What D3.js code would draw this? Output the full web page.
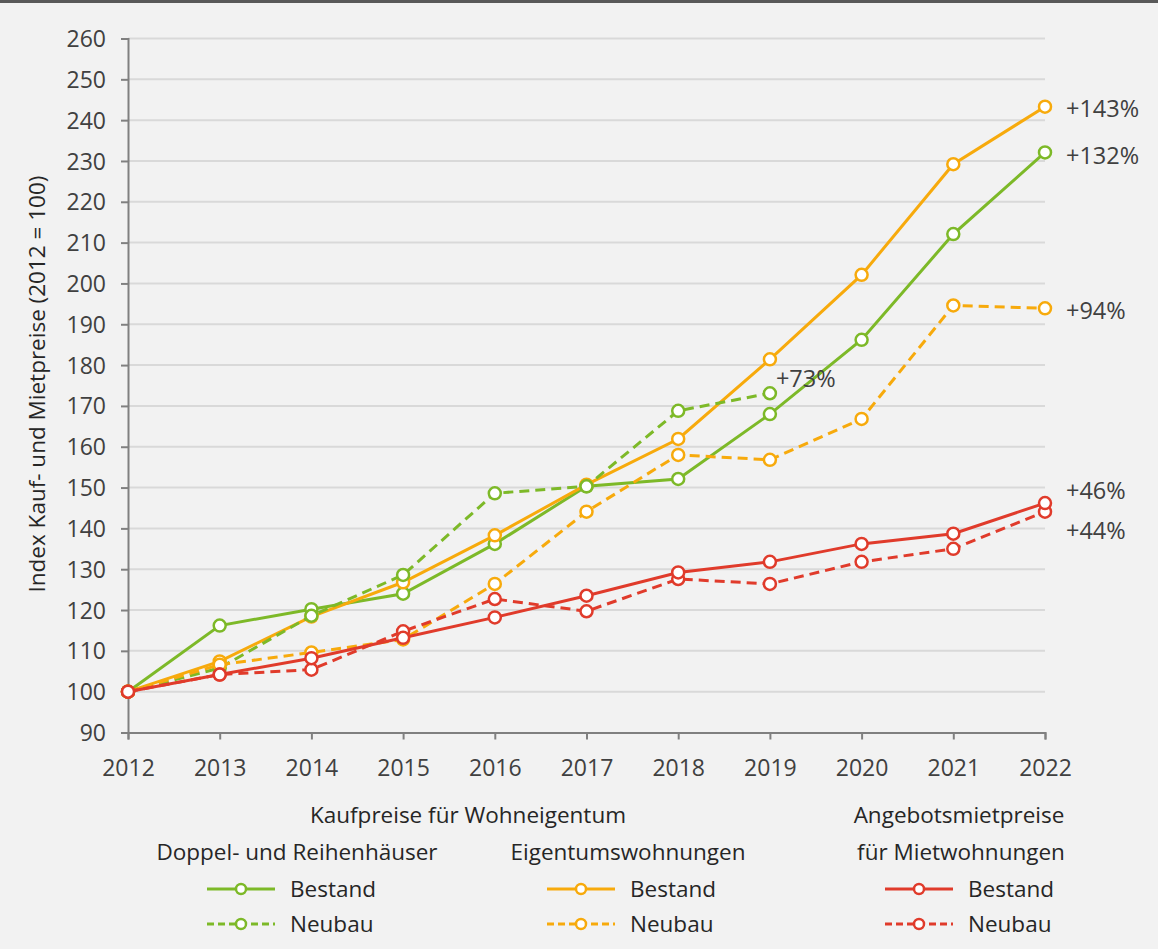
<!DOCTYPE html>
<html lang="de">
<head>
<meta charset="UTF-8">
<title>Kauf- und Mietpreise Index</title>
<script src="https://d3js.org/d3.v7.min.js"></script>
<style>
    body {
        margin: 0;
        background-color: #f2f2f2;
        font-family: "Open Sans", "Noto Sans", sans-serif;
    }
    svg { display: block; }
</style>
</head>
<body>
<div id="chart"></div>
<script>
    // values
    const years = [2012, 2013, 2014, 2015, 2016, 2017, 2018, 2019, 2020, 2021, 2022];
    const yTicks = [90, 100, 110, 120, 130, 140, 150, 160, 170, 180, 190, 200, 210, 220, 230, 240, 250, 260];

    const hausBestand = [100, 116.2, 120.2, 124.0, 136.2, 150.3, 152.1, 168.0, 186.2, 212.1, 232.1];
    const hausNeubau = [100, 105.8, 118.6, 128.6, 148.6, 150.3, 168.8, 173.1];
    const whgBestand = [100, 107.4, 118.4, 126.8, 138.3, 150.7, 161.9, 181.4, 202.1, 229.2, 243.3];
    const whgNeubau = [100, 106.6, 109.6, 112.8, 126.4, 144.1, 158.0, 156.8, 166.8, 194.6, 193.9];
    const mieteBestand = [100, 104.2, 108.2, 113.2, 118.2, 123.5, 129.2, 131.8, 136.2, 138.7, 146.2];
    const mieteNeubau = [100, 104.2, 105.4, 114.8, 122.7, 119.7, 127.6, 126.4, 131.8, 135.0, 144.1];

    // end labels: text, year, index value where the label sits
    const endLabels = [
        ["+143%", 2022, 242.8],
        ["+132%", 2022, 231.3],
        ["+94%", 2022, 193.4],
        ["+46%", 2022, 149.3],
        ["+44%", 2022, 139.3],
        ["+73%", 2019, 176.7]
    ];

    const green = "#7db928", orange = "#f7aa0c", red = "#e03b2b";

    const series = [
        { values: hausBestand, color: green, dash: null },
        { values: whgBestand, color: orange, dash: null },
        { values: hausNeubau, color: green, dash: "10,6" },
        { values: whgNeubau, color: orange, dash: "10,6" },
        { values: mieteNeubau, color: red, dash: "10,6" },
        { values: mieteBestand, color: red, dash: null }
    ];

    const width = 1158, height = 949;
    const x = d3.scaleLinear().domain([2012, 2022]).range([128, 1045]);
    const y = d3.scaleLinear().domain([90, 260]).range([732.5, 38.5]);

    const svg = d3.select("#chart").append("svg")
        .attr("width", width)
        .attr("height", height);

    svg.append("rect").attr("width", width).attr("height", height).attr("fill", "#f2f2f2");
    svg.append("rect").attr("width", width).attr("height", 3).attr("fill", "#595959");

    // gridlines
    svg.append("g")
        .selectAll("line")
        .data(yTicks.slice(1))
        .join("line")
        .attr("x1", x(2012)).attr("x2", x(2022))
        .attr("y1", d => y(d)).attr("y2", d => y(d))
        .attr("stroke", "#d9d9d9")
        .attr("stroke-width", 2);

    // axes
    const yAxis = svg.append("g")
        .attr("transform", `translate(${x(2012)},0)`)
        .call(d3.axisLeft(y).tickValues(yTicks).tickSize(7).tickPadding(15).tickFormat(d3.format("d")));
    const xAxis = svg.append("g")
        .attr("transform", `translate(0,${y(90)})`)
        .call(d3.axisBottom(x).tickValues(years).tickSize(7).tickPadding(20).tickFormat(d3.format("d")));

    [yAxis, xAxis].forEach(ax => {
        ax.select(".domain").attr("stroke", "#808080").attr("stroke-width", 2);
        ax.selectAll(".tick line").attr("stroke", "#808080").attr("stroke-width", 2);
        ax.selectAll(".tick text")
            .attr("fill", "#404040")
            .style("font-family", "'Open Sans', sans-serif")
            .style("font-size", "23px");
    });
    yAxis.selectAll(".tick text").attr("dy", "0.35em");
    xAxis.selectAll(".tick text").attr("dy", "0.71em");

    svg.append("text")
        .attr("transform", `translate(45,384) rotate(-90)`)
        .attr("text-anchor", "middle")
        .attr("fill", "#262626")
        .style("font-size", "22.5px")
        .text("Index Kauf- und Mietpreise (2012 = 100)");

    // lines and markers
    const line = d3.line()
        .x((d, i) => x(years[i]))
        .y(d => y(d));

    series.forEach(s => {
        const g = svg.append("g");
        g.append("path")
            .attr("d", line(s.values))
            .attr("fill", "none")
            .attr("stroke", s.color)
            .attr("stroke-width", 3)
            .attr("stroke-dasharray", s.dash);
        g.selectAll("circle")
            .data(s.values)
            .join("circle")
            .attr("cx", (d, i) => x(years[i]))
            .attr("cy", d => y(d))
            .attr("r", 6)
            .attr("fill", "#ffffff")
            .attr("stroke", s.color)
            .attr("stroke-width", 2.5);
    });

    // end labels
    svg.append("g")
        .selectAll("text")
        .data(endLabels)
        .join("text")
        .attr("x", d => x(d[1]) + (d[1] === 2022 ? 21 : 6))
        .attr("y", d => y(d[2]))
        .attr("dy", "0.35em")
        .attr("fill", "#404040")
        .style("font-size", "23.5px")
        .text(d => d[0]);

    // legend
    const legend = svg.append("g").attr("fill", "#262626").style("font-size", "22.5px");
    const heads = [
        ["Kaufpreise für Wohneigentum", 468, 815],
        ["Angebotsmietpreise", 959, 815],
        ["Doppel- und Reihenhäuser", 297, 852],
        ["Eigentumswohnungen", 628, 852],
        ["für Mietwohnungen", 961, 852]
    ];
    legend.selectAll("text.head")
        .data(heads)
        .join("text")
        .attr("class", "head")
        .attr("x", d => d[1])
        .attr("y", d => d[2])
        .attr("dy", "0.35em")
        .attr("text-anchor", "middle")
        .text(d => d[0]);

    const items = [
        [green, null, "Bestand", 207, 889],
        [green, "7,4", "Neubau", 207, 924],
        [orange, null, "Bestand", 547, 889],
        [orange, "7,4", "Neubau", 547, 924],
        [red, null, "Bestand", 885, 889],
        [red, "7,4", "Neubau", 885, 924]
    ];
    items.forEach(([color, dash, label, lx, ly]) => {
        legend.append("line")
            .attr("x1", lx).attr("x2", lx + 68)
            .attr("y1", ly).attr("y2", ly)
            .attr("stroke", color)
            .attr("stroke-width", 3)
            .attr("stroke-dasharray", dash);
        legend.append("circle")
            .attr("cx", lx + 34).attr("cy", ly)
            .attr("r", 5)
            .attr("fill", "#ffffff")
            .attr("stroke", color)
            .attr("stroke-width", 2.5);
        legend.append("text")
            .attr("x", lx + 83).attr("y", ly)
            .attr("dy", "0.35em")
            .text(label);
    });
</script>
</body>
</html>
